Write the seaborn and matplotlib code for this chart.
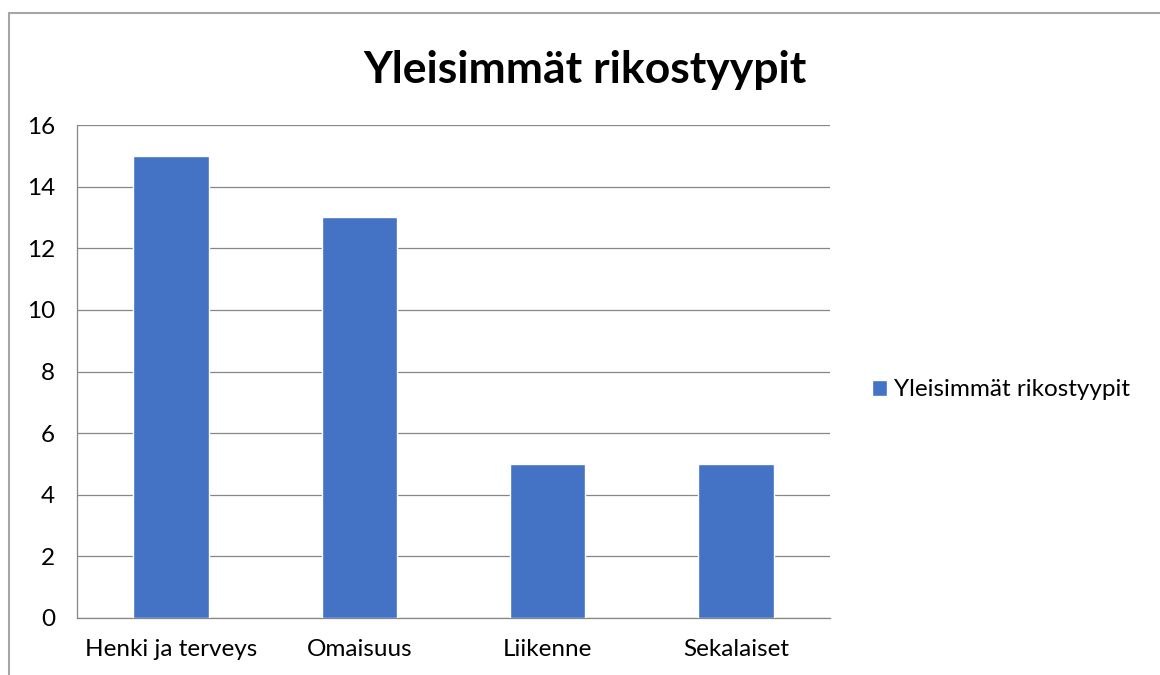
import matplotlib
matplotlib.use("Agg")
import matplotlib.pyplot as plt
import seaborn as sns
import pandas as pd
from matplotlib.lines import Line2D

categories = ["Henki ja terveys", "Omaisuus", "Liikenne", "Sekalaiset"]
counts = [15, 13, 5, 5]
series_name = "Yleisimmät rikostyypit"
title = "Yleisimmät rikostyypit"
yticks = [0, 2, 4, 6, 8, 10, 12, 14, 16]

BAR = "#4472C4"
GRID = "#878787"

sns.set_theme(style="white")
plt.rcParams["font.family"] = ["Lato", "DejaVu Sans"]
plt.rcParams["text.color"] = "black"

df = pd.DataFrame({"kategoria": categories, "maara": counts})

fig = plt.figure(figsize=(11.6, 6.75), dpi=100)
ax = fig.add_axes([77 / 1160, 57 / 675, (830 - 77) / 1160, (618 - 125) / 675])

sns.barplot(data=df, x="kategoria", y="maara", color=BAR, width=0.4,
            saturation=1, ax=ax, label=series_name, zorder=3)

ax.set_ylim(0, 16)
ax.set_xlim(-0.5, len(categories) - 0.5)
ax.set_yticks(yticks)
ax.yaxis.grid(True, color=GRID, linewidth=0.9, zorder=0)
ax.set_axisbelow(True)
ax.set_xlabel("")
ax.set_ylabel("")

for s in ["top", "right"]:
    ax.spines[s].set_visible(False)
for s in ["left", "bottom"]:
    ax.spines[s].set_color(GRID)
    ax.spines[s].set_linewidth(0.9)

ax.tick_params(axis="y", which="major", direction="out", length=5.8, width=0.9,
               color=GRID, labelsize=17.5, pad=10, labelcolor="black")
ax.tick_params(axis="x", which="major", length=0, labelsize=17.5, pad=15,
               labelcolor="black")
ax.set_xticks([i - 0.5 for i in range(len(categories) + 1)], minor=True)
ax.tick_params(axis="x", which="minor", direction="out", length=5.8, width=0.9,
               color=GRID)

fig.text(585 / 1160, 1 - 70 / 675, title, ha="center", va="center",
         fontsize=32, fontweight="bold")

ax.legend(loc="center left", bbox_to_anchor=(872 / 1160, 1 - 390 / 675),
          bbox_transform=fig.transFigure, frameon=False, fontsize=17.5,
          handlelength=0.6, handleheight=0.6, handletextpad=0.3,
          borderaxespad=0, borderpad=0)

# chart frame (only left and top edges show in the crop)
fig.add_artist(Line2D([8.5 / 1160, 8.5 / 1160], [0, 1 - 12.5 / 675],
                      transform=fig.transFigure, color="#a6a6a6", linewidth=1.5))
fig.add_artist(Line2D([8.5 / 1160, 1], [1 - 12.5 / 675, 1 - 12.5 / 675],
                      transform=fig.transFigure, color="#a6a6a6", linewidth=1.5))

fig.savefig("out.png", dpi=100)
